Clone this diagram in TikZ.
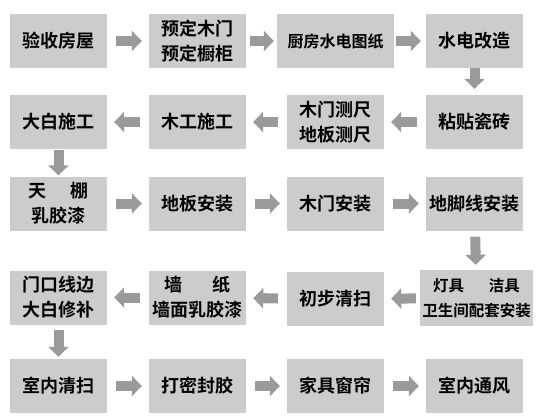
\documentclass[tikz,border=0pt]{standalone}
\usepackage{fontspec}
\usepackage{xcolor}
\usepackage{tikz}
\usetikzlibrary{arrows.meta}
\newfontfamily\cjk{Noto Sans CJK SC}[BoldFont={Noto Sans CJK SC Bold}]
\definecolor{boxgray}{HTML}{CCCCCC}
\definecolor{arrowgray}{HTML}{9A9A9A}

\begin{document}
\begin{tikzpicture}[x=1bp,y=-1bp,
    box/.style={fill=boxgray, inner sep=0pt, minimum width=97bp, minimum height=54bp,
        align=center, font=\cjk\bfseries\fontsize{18bp}{25bp}\selectfont},
    flow/.style={draw=arrowgray, line width=10bp, -{Triangle[width=20bp,length=10bp]},
        shorten <=9bp, shorten >=7bp}]
            \useasboundingbox (0,0) rectangle (536,418);

            %Nodes
            \node[box] at (58.5,41) (yanshou) {验收房屋};
            \node[box] at (197.5,41) (yuding) {预定木门\\预定橱柜};
            \node[box, minimum width=117bp, font=\cjk\bfseries\fontsize{16bp}{25bp}\selectfont] at (335.5,41) (tuzhi) {厨房水电图纸};
            \node[box] at (474.5,41) (gaizao) {水电改造};

            \node[box] at (58.5,122) (dabai) {大白施工};
            \node[box] at (197.5,122) (mugong) {木工施工};
            \node[box] at (335.5,122) (cechi) {木门测尺\\地板测尺};
            \node[box] at (474.5,122) (cizhuan) {粘贴瓷砖};

            \node[box] at (58.5,203.5) (tianpeng) {天\hspace{1.3em}棚\\乳胶漆};
            \node[box] at (197.5,203.5) (diban) {地板安装};
            \node[box] at (335.5,203.5) (mumen) {木门安装};
            \node[box] at (474.5,203.5) (jiaoxian) {地脚线安装};

            \node[box] at (58.5,297.5) (xiubu) {门口线边\\大白修补};
            \node[box] at (197.5,297.5) (qiangzhi) {墙\hspace{1.7em}纸\\墙面乳胶漆};
            \node[box] at (335.5,299) (chubu) {初步清扫};
            \node[box, minimum width=113bp, minimum height=56bp, font=\cjk\bfseries\fontsize{15.5bp}{25bp}\selectfont] at (476.5,298) (dengju) {灯具\hspace{1.6em}洁具\\卫生间配套安装};

            \node[box] at (58.5,386) (shinei) {室内清扫};
            \node[box] at (197.5,386) (mifeng) {打密封胶};
            \node[box] at (335.5,386) (jiaju) {家具窗帘};
            \node[box] at (474.5,386) (tongfeng) {室内通风};

            %Lines
            \draw[flow] (yanshou) -- (yuding);
            \draw[flow, shorten <=4bp, shorten >=3bp] (yuding) -- (tuzhi);
            \draw[flow, shorten <=2bp, shorten >=5bp] (tuzhi) -- (gaizao);
            \draw[flow, shorten <=0bp, shorten >=6bp] (gaizao) -- (cizhuan);
            \draw[flow] (cizhuan) -- (cechi);
            \draw[flow] (cechi) -- (mugong);
            \draw[flow] (mugong) -- (dabai);
            \draw[flow, shorten <=1bp, shorten >=1bp] (dabai) -- (tianpeng);
            \draw[flow] (tianpeng) -- (diban);
            \draw[flow] (diban) -- (mumen);
            \draw[flow] (mumen) -- (jiaoxian);
            \draw[flow, shorten <=6bp, shorten >=5bp] (jiaoxian) -- (dengju);
            \draw[flow, shorten <=4bp, shorten >=7bp] (dengju) -- (chubu);
            \draw[flow] (chubu) -- (qiangzhi);
            \draw[flow] (qiangzhi) -- (xiubu);
            \draw[flow, shorten <=5bp, shorten >=2bp] (xiubu) -- (shinei);
            \draw[flow] (shinei) -- (mifeng);
            \draw[flow] (mifeng) -- (jiaju);
            \draw[flow] (jiaju) -- (tongfeng);
        \end{tikzpicture}
\end{document}
